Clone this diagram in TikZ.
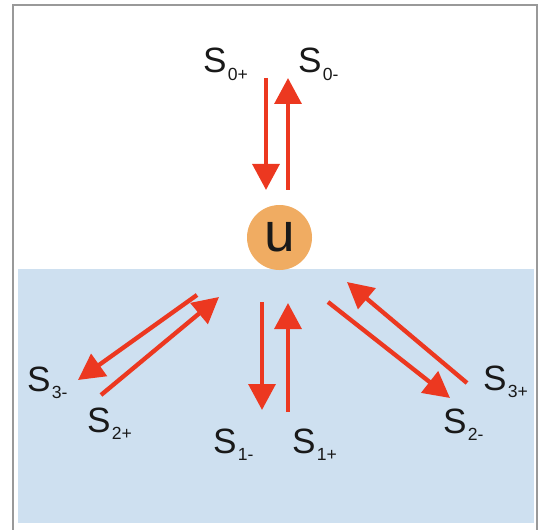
\documentclass[tikz,border=0pt]{standalone}
\usepackage{fontspec}
\setmainfont{Liberation Sans}
\usepackage{tikz}
\usetikzlibrary{arrows.meta}
\definecolor{flowred}{RGB}{236,56,32}
\definecolor{waterblue}{RGB}{206,224,240}
\definecolor{unitorange}{RGB}{240,172,98}
\newcommand\Lbl[1]{{\fontsize{30}{32}\selectfont S}\kern1pt\raisebox{-6pt}{\fontsize{15}{17}\selectfont #1}}

\begin{document}
\begin{tikzpicture}[flow/.style = {draw = flowred, line width = 3.7pt, -{Triangle[length=0.78cm, width=0.8cm]}},
                    lbl/.style = {anchor = base west, inner sep = 0pt, text = black!90}]
                \useasboundingbox (0,0) rectangle (16.29,15.87);
                \draw [gray!80, line width = 1.5pt] (0.39,-0.3) rectangle (16.11,15.72);
                \fill [waterblue] (0.54,0.18) rectangle (16.02,7.80);

                \node [circle, fill = unitorange, text = black!90, minimum size = 1.95cm, inner sep = 0pt,
                       font = \fontsize{47}{50}\selectfont] (u) at (8.385,8.745) {u};

                % arrow ends
                \foreach \n/\x/\y in {a0/7.98/13.53, b0/7.98/10.17, c0/8.64/10.17, d0/8.64/13.53,
                                      a3/5.91/7.02, b3/2.34/4.47, c2/3.03/4.02, d2/6.57/6.96,
                                      a1/7.86/6.81, b1/7.86/3.57, c1/8.64/3.51, d1/8.64/6.78,
                                      e2/9.84/6.81, f2/13.50/3.93, e3/14.01/4.38, f3/10.41/7.41} {
                  \coordinate (\n) at (\x,\y);
                }
                \foreach \a/\b in {a0/b0, c0/d0, a3/b3, c2/d2, a1/b1, c1/d1, e2/f2, e3/f3} {
                  \draw [flow] (\a) -- (\b);
                }

                % labels
                \foreach \n/\x/\y/\s in {s0p/6.09/13.68/0+, s0m/8.94/13.68/0-,
                                         s3m/0.81/4.14/3-, s2p/2.61/2.91/2+,
                                         s1m/6.39/2.28/1-, s1p/8.76/2.28/1+,
                                         s2m/13.29/2.88/2-, s3p/14.49/4.17/3+} {
                  \node [lbl] (\n) at (\x,\y) {\Lbl{\s}};
                }
\end{tikzpicture}
\end{document}
